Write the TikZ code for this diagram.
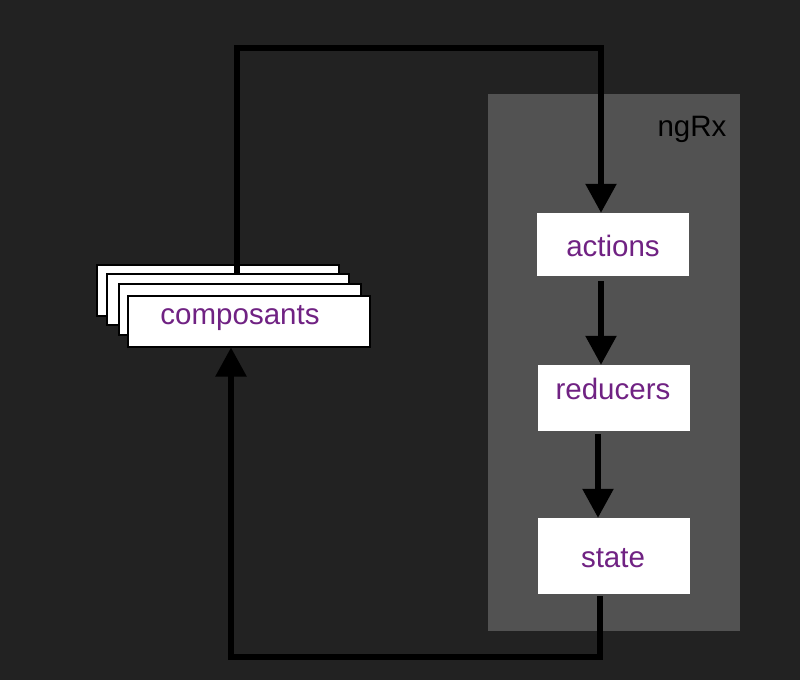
\documentclass[tikz,border=0pt]{standalone}
\usepackage{fontspec}
\setmainfont{Liberation Sans}
\usetikzlibrary{arrows.meta}
\definecolor{bgc}{HTML}{222222}
\definecolor{panel}{HTML}{525252}
\definecolor{txtp}{HTML}{702283}
\tikzset{
  box/.style={fill=white, draw=none, minimum width=152pt, inner sep=0pt},
  card/.style={fill=white, draw=black, line width=2pt, minimum width=242pt, minimum height=51pt, inner sep=0pt},
  lbl/.style={text=txtp, font=\fontsize{29.5}{34}\selectfont, inner sep=0pt},
  flow/.style={line width=5.5pt, line join=miter, -{Triangle[width=30pt,length=29pt]}},
}
\begin{document}
\begin{tikzpicture}[x=1pt,y=-1pt]
\fill[bgc] (0,0) rectangle (800,680);
\useasboundingbox (0,0) rectangle (800,680);
\node[fill=panel, minimum width=252pt, minimum height=537pt, inner sep=0pt] (ngrx) at (614,362.5) {};
\node[font=\fontsize{29.5}{34}\selectfont, text=black, inner sep=0pt] (ngrxlbl) at (692,129) {ngRx};
% boxes
\node[box, minimum height=63pt] (actions) at (613,244.5) {};
\node[lbl] (actlbl) at (613,246) {actions};
\node[box, minimum height=66pt] (reducers) at (614,398) {};
\node[lbl] (redlbl) at (613,389) {reducers};
\node[box, minimum height=76pt] (state) at (614,556) {};
\node[lbl] (statelbl) at (613,558) {state};
% composants stack
\node[card] (c1) at (218,290) {};
\coordinate (tl) at (237,48);
\coordinate (tr) at (601,48);
\node[card] (c2) at (228,299.5) {};
\node[card] (c3) at (240,309) {};
\node[card] (c4) at (248.5,321) {};
\node[lbl] (complbl) at (240,318) {composants};
% connectors
\draw[flow] (c2.north -| tl) -- (tl) -- (tr) -- (actions.north -| tr);
\draw[flow] ([yshift=-5pt]actions.south -| tr) -- (reducers.north -| tr);
\coordinate (mid) at (598,0);
\draw[flow] ([yshift=-3pt]reducers.south -| mid) -- (state.north -| mid);
\coordinate (br) at (600,657);
\coordinate (bl) at (231,657);
\draw[flow] ([yshift=-2pt]state.south -| br) -- (br) -- (bl) -- (c4.south -| bl);
\end{tikzpicture}
\end{document}
